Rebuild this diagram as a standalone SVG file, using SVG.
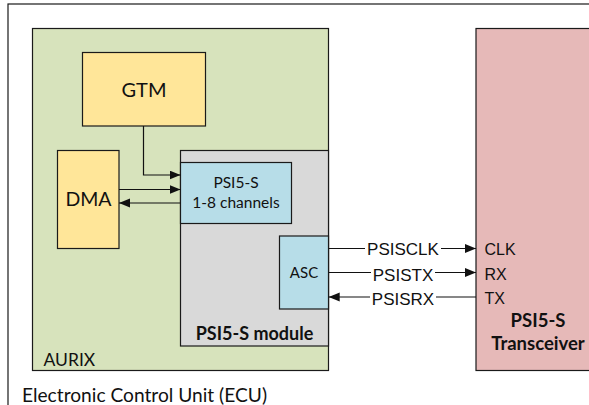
<svg xmlns="http://www.w3.org/2000/svg" width="589" height="405" viewBox="0 0 589 405">
<defs>
<style>
.box{stroke:#1a1a1a;stroke-width:1.2}
.lbl{font-family:Lato,"Liberation Sans",sans-serif;fill:#111}
.sig{font-family:"Liberation Sans",Arial,sans-serif;font-size:17px;fill:#111;text-anchor:middle}
.pin{font-family:"Liberation Sans",Arial,sans-serif;font-size:16px;fill:#111}
.wire{fill:none;stroke:#111;stroke-width:1.2;marker-end:url(#ah)}
.bg{fill:#fff}
</style>
<marker id="ah" markerUnits="userSpaceOnUse" markerWidth="12" markerHeight="10" refX="11" refY="4.5" orient="auto">
<path d="M0,0 L11,4.5 L0,9 z" fill="#111"/>
</marker>
</defs>
<rect width="589" height="405" fill="#fff"/>
<g id="ecu">
<rect class="box" x="8" y="4" width="600" height="420" fill="#fff" stroke="#333"/>
<text class="lbl" x="22" y="401.5" font-size="19" textLength="245" lengthAdjust="spacingAndGlyphs">Electronic Control Unit (ECU)</text>
</g>
<g id="aurix">
<rect class="box" x="32.5" y="28.5" width="296" height="342" fill="#D7E3BC"/>
<text class="lbl" x="43.5" y="366" font-size="17.5">AURIX</text>
</g>
<g id="transceiver">
<rect class="box" x="476" y="28.5" width="140" height="342" fill="#E6B9B8"/>
<text class="lbl" x="538" y="327" font-size="18.5" font-weight="bold" text-anchor="middle">PSI5-S</text>
<text class="lbl" x="538" y="350" font-size="18.5" font-weight="bold" text-anchor="middle">Transceiver</text>
<text class="pin" x="484.5" y="254.5">CLK</text>
<text class="pin" x="484.5" y="279.5">RX</text>
<text class="pin" x="484.5" y="304">TX</text>
</g>
<g id="gtm">
<rect class="box" x="82.5" y="52.5" width="123" height="73.5" fill="#FFE699"/>
<text class="lbl" x="144" y="96.5" font-size="20" text-anchor="middle">GTM</text>
</g>
<g id="dma">
<rect class="box" x="57.5" y="150.5" width="61.5" height="98" fill="#FFE699"/>
<text class="lbl" x="88.5" y="206" font-size="19.5" text-anchor="middle">DMA</text>
</g>
<g id="psi5s-module">
<rect class="box" x="180.5" y="150.5" width="148" height="195.5" fill="#D9D9D9"/>
<text class="lbl" x="254.5" y="340" font-size="18" font-weight="bold" text-anchor="middle">PSI5-S module</text>
</g>
<g id="psi5s-channels">
<rect class="box" x="180.5" y="162.5" width="111" height="61" fill="#B7DDE8"/>
<text class="lbl" x="236" y="188.3" font-size="15.5" text-anchor="middle">PSI5-S</text>
<text class="lbl" x="236" y="208.3" font-size="15.5" text-anchor="middle">1-8 channels</text>
</g>
<g id="asc">
<rect class="box" x="279.5" y="236" width="49" height="73" fill="#B7DDE8"/>
<text class="lbl" x="304" y="278.3" font-size="15" text-anchor="middle">ASC</text>
</g>
<g id="connectors">
<path class="wire" d="M143.5,126 V175 H180.5"/>
<path class="wire" d="M119,189.5 H180.5"/>
<path class="wire" d="M180.5,203 H119"/>
<path class="wire" d="M328.7,248.5 H476"/>
<path class="wire" d="M328.7,272.5 H476"/>
<path class="wire" d="M476,297 H328.7"/>
<rect class="bg" x="365" y="240" width="76" height="17"/>
<rect class="bg" x="371" y="264" width="64" height="17"/>
<rect class="bg" x="370" y="288" width="66" height="17"/>
<text class="sig" x="403" y="254.5">PSISCLK</text>
<text class="sig" x="403" y="280.5">PSISTX</text>
<text class="sig" x="403" y="304.5">PSISRX</text>
</g>
</svg>
